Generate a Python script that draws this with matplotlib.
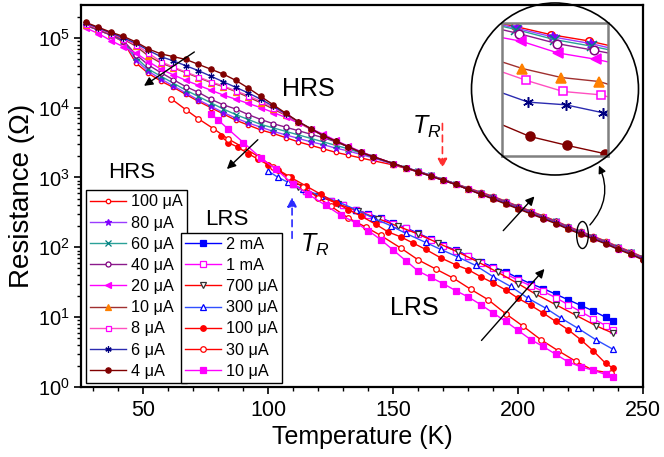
import numpy as np
import matplotlib
matplotlib.use("Agg")
import matplotlib.pyplot as plt
from matplotlib.patches import Ellipse, FancyArrowPatch
from matplotlib.ticker import MultipleLocator, LogLocator

plt.rcParams["font.family"] = ["Liberation Sans", "DejaVu Sans"]
plt.rcParams["mathtext.fontset"] = "custom"
plt.rcParams["mathtext.rm"] = "Liberation Sans"
plt.rcParams["mathtext.it"] = "Liberation Sans:italic"

# HRS curves, log10(R / Ohm)
T_hrs = [27, 32, 37, 42, 47, 52, 57, 62, 67, 72, 77, 82, 87, 92, 97, 102, 107, 112,
         117, 122, 127, 132, 137, 142,
         150, 155, 160, 165, 170, 175, 180, 185, 190, 195, 200, 205, 210, 215, 220,
         225, 230, 235, 240, 245, 250]

hrs_100uA = [5.18, 5.11, 5.04, 4.94, 4.64, 4.49, 4.38, 4.29, 4.19, 4.09, 4.00, 3.91, 3.82, 3.75,
             3.68, 3.63, 3.57, 3.51, 3.46, 3.41, 3.36, 3.32, 3.28, 3.24,
             3.18, 3.13, 3.08, 3.03, 2.97, 2.91, 2.85, 2.79, 2.73, 2.66, 2.59, 2.52, 2.45,
             2.38, 2.30, 2.23, 2.16, 2.09, 2.01, 1.94, 1.86]
hrs_80uA = [5.18, 5.11, 5.04, 4.95, 4.68, 4.52, 4.41, 4.31, 4.21, 4.11, 4.02, 3.93, 3.85, 3.78,
            3.72, 3.66, 3.61, 3.56, 3.51, 3.47, 3.42, 3.38, 3.33, 3.28,
            3.19, 3.14, 3.09, 3.03, 2.97, 2.91, 2.84, 2.78, 2.72, 2.65, 2.58, 2.51, 2.44,
            2.37, 2.29, 2.22, 2.15, 2.08, 2.00, 1.93, 1.85]
hrs_60uA = [5.18, 5.11, 5.04, 4.95, 4.72, 4.55, 4.45, 4.35, 4.25, 4.16, 4.07, 3.98, 3.90, 3.83,
            3.76, 3.71, 3.66, 3.61, 3.56, 3.51, 3.46, 3.41, 3.35, 3.29,
            3.20, 3.14, 3.09, 3.03, 2.97, 2.91, 2.84, 2.78, 2.72, 2.65, 2.58, 2.51, 2.44,
            2.37, 2.29, 2.22, 2.15, 2.08, 2.00, 1.93, 1.85]
hrs_40uA = [5.18, 5.11, 5.04, 4.96, 4.76, 4.61, 4.50, 4.40, 4.30, 4.22, 4.12, 4.04, 3.98, 3.90,
            3.83, 3.77, 3.72, 3.67, 3.62, 3.57, 3.51, 3.44, 3.37, 3.30,
            3.20, 3.14, 3.09, 3.03, 2.97, 2.91, 2.84, 2.78, 2.72, 2.65, 2.58, 2.51, 2.44,
            2.37, 2.29, 2.22, 2.15, 2.08, 2.00, 1.93, 1.85]
hrs_20uA = [5.14, 5.06, 4.96, 4.87, 4.78, 4.66, 4.55, 4.47, 4.39, 4.32, 4.25, 4.18, 4.12, 4.06,
            4.00, 3.93, 3.86, 3.78, 3.70, 3.62, 3.53, 3.45, 3.37, 3.30,
            3.20, 3.14, 3.08, 3.02, 2.96, 2.90, 2.83, 2.77, 2.71, 2.64, 2.57, 2.50, 2.43,
            2.36, 2.28, 2.21, 2.14, 2.07, 1.99, 1.92, 1.84]
hrs_10uA = [5.19, 5.12, 5.05, 4.98, 4.88, 4.74, 4.64, 4.57, 4.50, 4.43, 4.36, 4.30, 4.23, 4.15,
            4.07, 3.98, 3.89, 3.79, 3.69, 3.60, 3.52, 3.44, 3.36, 3.29,
            3.20, 3.14, 3.08, 3.02, 2.96, 2.90, 2.83, 2.77, 2.71, 2.64, 2.57, 2.50, 2.43,
            2.36, 2.28, 2.21, 2.14, 2.07, 1.99, 1.92, 1.84]
hrs_8uA = [5.20, 5.13, 5.06, 4.99, 4.90, 4.78, 4.66, 4.58, 4.51, 4.44, 4.37, 4.31, 4.24, 4.17,
           4.09, 4.00, 3.90, 3.79, 3.69, 3.60, 3.52, 3.44, 3.36, 3.29,
           3.20, 3.14, 3.08, 3.02, 2.96, 2.90, 2.83, 2.76, 2.70, 2.63, 2.56, 2.49, 2.42,
           2.35, 2.27, 2.20, 2.13, 2.06, 1.98, 1.91, 1.83]
hrs_6uA = [5.21, 5.14, 5.07, 5.00, 4.92, 4.82, 4.73, 4.67, 4.60, 4.53, 4.45, 4.37, 4.29, 4.21,
           4.12, 4.02, 3.91, 3.80, 3.70, 3.60, 3.52, 3.44, 3.36, 3.29,
           3.20, 3.14, 3.08, 3.02, 2.96, 2.90, 2.83, 2.76, 2.70, 2.63, 2.56, 2.49, 2.42,
           2.35, 2.27, 2.20, 2.13, 2.06, 1.98, 1.91, 1.83]
hrs_4uA = [5.22, 5.15, 5.08, 5.02, 4.94, 4.84, 4.77, 4.73, 4.69, 4.62, 4.55, 4.48, 4.39, 4.28,
           4.16, 4.04, 3.92, 3.80, 3.70, 3.60, 3.52, 3.44, 3.36, 3.30,
           3.20, 3.14, 3.08, 3.02, 2.96, 2.90, 2.83, 2.76, 2.69, 2.62, 2.55, 2.48, 2.41,
           2.34, 2.26, 2.19, 2.12, 2.05, 1.97, 1.90, 1.82]

# LRS curves, log10(R / Ohm)
T_lrs_2mA = [110, 115, 120, 125, 130, 135, 140, 145, 150, 155, 160, 165, 170, 175, 180,
             185, 190, 195, 200, 205, 210, 215, 220, 225, 230, 235, 238]
lrs_2mA = [2.90, 2.81, 2.74, 2.67, 2.60, 2.54, 2.48, 2.42, 2.35, 2.28, 2.20, 2.12, 2.03, 1.96,
           1.88, 1.79, 1.72, 1.65, 1.56, 1.48, 1.41, 1.33, 1.25, 1.17, 1.09, 1.00, 0.94]
T_lrs_1mA = T_lrs_2mA
lrs_1mA = [2.90, 2.81, 2.74, 2.67, 2.60, 2.54, 2.47, 2.41, 2.34, 2.27, 2.19, 2.11, 2.02, 1.95,
           1.87, 1.78, 1.70, 1.62, 1.53, 1.45, 1.37, 1.28, 1.18, 1.08, 0.98, 0.88, 0.82]
T_lrs_700uA = [112, 120, 128, 136, 144, 152, 160, 168, 176, 184, 192, 200, 207, 215, 223, 231, 238]
lrs_700uA = [2.86, 2.74, 2.62, 2.52, 2.41, 2.30, 2.19, 2.06, 1.93, 1.79, 1.64, 1.48, 1.33,
             1.18, 1.03, 0.88, 0.77]
T_lrs_300uA = [100, 104, 108, 114, 121, 128, 135, 142, 149, 155, 163, 169, 176, 183, 190,
               197, 204, 211, 217, 224, 231, 238]
lrs_300uA = [3.09, 3.00, 2.93, 2.83, 2.74, 2.65, 2.54, 2.42, 2.31, 2.20, 2.07, 1.97, 1.86,
             1.74, 1.58, 1.44, 1.27, 1.13, 0.99, 0.84, 0.68, 0.54]
T_lrs_100uA = [81, 84, 88, 92, 96, 100, 104, 109, 115, 121, 127, 132, 137, 143, 148, 153, 158,
               163, 169, 175, 180, 185, 190, 195, 200, 205, 210, 215, 220, 225, 230, 235, 238]
lrs_100uA = [3.59, 3.50, 3.43, 3.34, 3.26, 3.18, 3.11, 3.00, 2.88, 2.76, 2.64, 2.54, 2.45, 2.33,
             2.22, 2.15, 2.06, 1.97, 1.85, 1.75, 1.68, 1.58, 1.49, 1.39, 1.27, 1.17, 1.06, 0.94,
             0.82, 0.68, 0.52, 0.34, 0.27]
T_lrs_30uA = [61, 67, 72, 78, 84, 90, 96, 102, 108, 114, 120, 125, 132, 139, 145, 153, 160, 167,
              174, 181, 188, 195, 202, 209, 216, 223, 230, 237]
lrs_30uA = [4.13, 3.97, 3.84, 3.70, 3.55, 3.43, 3.30, 3.15, 3.00, 2.86, 2.71, 2.59, 2.42, 2.29,
            2.17, 1.99, 1.82, 1.69, 1.56, 1.40, 1.25, 1.05, 0.87, 0.68, 0.52, 0.37, 0.24, 0.20]
T_lrs_10uA = [77, 80, 84, 90, 97, 103, 110, 116, 123, 129, 135, 140, 145, 150, 155, 160, 165,
              170, 175, 180, 185, 190, 195, 200, 205, 210, 215, 220, 225, 230, 235, 238]
lrs_10uA = [3.91, 3.82, 3.69, 3.50, 3.28, 3.12, 2.90, 2.76, 2.60, 2.46, 2.35, 2.24, 2.11, 1.96,
            1.81, 1.66, 1.57, 1.48, 1.38, 1.29, 1.18, 1.06, 0.94, 0.81, 0.68, 0.58, 0.47, 0.36,
            0.29, 0.24, 0.18, 0.14]

# inset (zoom of the HRS tail), T in K and R in Ohm
inset_T = {
    "100": [214.0, 214.36, 215.38, 216.46, 217.0],
    "80": [214.0, 214.42, 215.44, 216.52, 217.0],
    "60": [214.0, 214.41, 215.49, 216.55, 217.0],
    "40": [214.0, 214.48, 215.56, 216.60, 217.0],
    "20": [214.0, 214.55, 215.58, 216.65, 217.0],
    "10": [214.0, 214.58, 215.68, 216.75, 217.0],
    "8": [214.0, 214.67, 215.73, 216.79, 217.0],
    "6": [214.0, 214.74, 215.80, 216.86, 217.0],
    "4": [214.0, 214.78, 215.84, 216.91, 217.0],
}
inset_R = {
    "100": [234.8, 234.0, 231.5, 229.6, 228.3],
    "80": [234.4, 233.4, 230.8, 228.8, 227.6],
    "60": [234.0, 233.0, 230.0, 228.0, 227.0],
    "40": [233.0, 231.8, 228.8, 226.8, 226.0],
    "20": [230.6, 229.5, 226.0, 224.1, 223.3],
    "10": [223.3, 221.3, 218.6, 217.4, 216.6],
    "8": [220.3, 217.8, 214.4, 213.4, 212.8],
    "6": [214.0, 211.2, 210.4, 208.0, 207.5],
    "4": [204.4, 200.9, 198.2, 195.7, 195.2],
}

# label, data, line colour, marker, face colour, edge colour, marker size
hrs_styles = [
    ("100 \u03bcA", hrs_100uA, "#ff0000", "o", "white", "#ff0000", 3.2),
    ("80 \u03bcA", hrs_80uA, "#9a3cff", "*", "#8000ff", "#8000ff", 4.5),
    ("60 \u03bcA", hrs_60uA, "#2aa198", "x", "#008080", "#008080", 4),
    ("40 \u03bcA", hrs_40uA, "#8b1a8b", "o", "white", "#800080", 3.6),
    ("20 \u03bcA", hrs_20uA, "#ff00ff", "<", "#ff00ff", "#ff00ff", 4),
    ("10 \u03bcA", hrs_10uA, "#a03030", "^", "#ff8000", "#ff8000", 4),
    ("8 \u03bcA", hrs_8uA, "#ff4fc0", "s", "white", "#ff00ff", 3.6),
    ("6 \u03bcA", hrs_6uA, "#2b2bb0", (6, 2, 0), "#000080", "#000080", 4.5),
    ("4 \u03bcA", hrs_4uA, "#800000", "o", "#800000", "#800000", 3.8),
]
lrs_styles = [
    ("2 mA", T_lrs_2mA, lrs_2mA, "#0000ff", "s", "#0000ff", "#0000ff"),
    ("1 mA", T_lrs_1mA, lrs_1mA, "#ff00ff", "s", "white", "#ff00ff"),
    ("700 \u03bcA", T_lrs_700uA, lrs_700uA, "#ff0000", "v", "white", "#333333"),
    ("300 \u03bcA", T_lrs_300uA, lrs_300uA, "#3050ff", "^", "white", "#0000ff"),
    ("100 \u03bcA", T_lrs_100uA, lrs_100uA, "#ff0000", "o", "#ff0000", "#ff0000"),
    ("30 \u03bcA", T_lrs_30uA, lrs_30uA, "#ff0000", "o", "white", "#ff0000"),
    ("10 \u03bcA", T_lrs_10uA, lrs_10uA, "#ff00ff", "s", "#ff00ff", "#ff00ff"),
]

fig = plt.figure(figsize=(6.64, 4.57), dpi=100)
ax = fig.add_axes([81 / 664, 1 - 387 / 457, 562 / 664, 382 / 457])

lrs_lines = []
for label, T, vals, color, marker, mfc, mec in lrs_styles:
    (ln,) = ax.plot(T, 10 ** np.array(vals), color=color, lw=1.0, marker=marker,
                    ms=4, mfc=mfc, mec=mec, mew=0.9, label=label)
    lrs_lines.append(ln)

hrs_lines = []
for label, vals, color, marker, mfc, mec, ms in hrs_styles:
    (ln,) = ax.plot(T_hrs, 10 ** np.array(vals), color=color, lw=1.0, marker=marker,
                    ms=ms, mfc=mfc, mec=mec, mew=0.9, label=label)
    hrs_lines.append(ln)

ax.set_yscale("log")
ax.set_xlim(25, 250)
ax.set_ylim(1, 2.95e5)
ax.xaxis.set_major_locator(MultipleLocator(50))
ax.xaxis.set_minor_locator(MultipleLocator(10))
ax.yaxis.set_major_locator(LogLocator(base=10, numticks=10))
ax.yaxis.set_minor_locator(LogLocator(base=10, subs=np.arange(2, 10), numticks=20))
ax.tick_params(which="major", direction="out", length=5, width=1.2)
ax.tick_params(which="minor", direction="out", length=3, width=1.0)
ax.tick_params(axis="x", which="major", labelsize=15.5, pad=4)
ax.tick_params(axis="y", which="major", labelsize=14.5, pad=3)
for sp in ax.spines.values():
    sp.set_linewidth(1.6)

ax.set_xlabel("Temperature (K)", fontsize=18, labelpad=3)
ax.set_ylabel("Resistance (\u03a9)", fontsize=20, labelpad=2)

leg_kw = dict(fontsize=11.7, frameon=True, fancybox=False, edgecolor="black",
              framealpha=1, handlelength=2.2, handletextpad=0.3, labelspacing=0.38,
              borderpad=0.25, borderaxespad=0, loc="lower left")
leg1 = ax.legend(handles=hrs_lines, bbox_to_anchor=(0.009, 0.011), **leg_kw)
leg1.get_frame().set_linewidth(1.0)
ax.add_artist(leg1)
leg2 = ax.legend(handles=lrs_lines, bbox_to_anchor=(0.178, 0.011), **leg_kw)
leg2.get_frame().set_linewidth(1.0)

ax.text(45.3, 10 ** 3.07, "HRS", fontsize=16, ha="center", va="center")
ax.text(83.3, 10 ** 2.40, "LRS", fontsize=16, ha="center", va="center")
ax.text(116.2, 10 ** 4.27, "HRS", fontsize=18, ha="center", va="center")
ax.text(158.6, 10 ** 1.13, "LRS", fontsize=18, ha="center", va="center")
ax.text(163.4, 10 ** 3.72, r"$T_R$", fontsize=18, ha="center", va="center")
ax.text(118.6, 10 ** 2.04, r"$T_R$", fontsize=18, ha="center", va="center")

arrow_kw = dict(arrowstyle="-|>", color="black", lw=1.0, mutation_scale=13)
ax.annotate("", xy=(49.3, 1.95e4), xytext=(71.3, 6.6e4), arrowprops=arrow_kw)
ax.annotate("", xy=(82.6, 1.24e3), xytext=(96.6, 3.7e3), arrowprops=arrow_kw)
ax.annotate("", xy=(207.3, 574), xytext=(193.3, 162), arrowprops=arrow_kw)
ax.annotate("", xy=(211.3, 52.5), xytext=(184.6, 4.33), arrowprops=arrow_kw)
ax.annotate("", xy=(169.7, 1.24e3), xytext=(169.7, 6.5e3),
            arrowprops=dict(arrowstyle="-|>", color="#ff3030", lw=1.2,
                            linestyle=(0, (4, 3)), mutation_scale=14))
ax.annotate("", xy=(109.5, 573), xytext=(109.5, 123),
            arrowprops=dict(arrowstyle="-|>", color="#2a2aff", lw=1.2,
                            linestyle=(0, (4, 3)), mutation_scale=14))

# small ellipse on the HRS tail and the curved pointer to the magnifier
fig.add_artist(Ellipse((582.5 / 664, 1 - 235 / 457), 11.7 / 664, 27 / 457,
                       transform=fig.transFigure, fill=False, lw=1.0, color="black"))
fig.add_artist(FancyArrowPatch((588 / 664, 1 - 227 / 457), (597.7 / 664, 1 - 163 / 457),
                               transform=fig.transFigure, connectionstyle="arc3,rad=0.35",
                               arrowstyle="-|>", mutation_scale=11, lw=1.0, color="black"))

# inset
ins = fig.add_axes([502 / 664, 1 - 156 / 457, 106 / 664, 133 / 457])
for label, vals, color, marker, mfc, mec, ms in hrs_styles:
    key = label.split()[0]
    ins.plot(inset_T[key], inset_R[key], color=color, lw=1.0, marker=marker,
             ms=ms * 1.7, mfc=mfc, mec=mec, mew=1.1, markevery=[1, 2, 3])
ins.set_xlim(214, 217)
ins.set_ylim(195, 235)
ins.set_xticks([])
ins.set_yticks([])
for sp in ins.spines.values():
    sp.set_color("#808080")
    sp.set_linewidth(1.8)

fig.add_artist(Ellipse((555 / 664, 1 - 89 / 457), 167 / 664, 172 / 457,
                       transform=fig.transFigure, fill=False, lw=1.2, color="black"))

fig.savefig("out.png", dpi=100)
